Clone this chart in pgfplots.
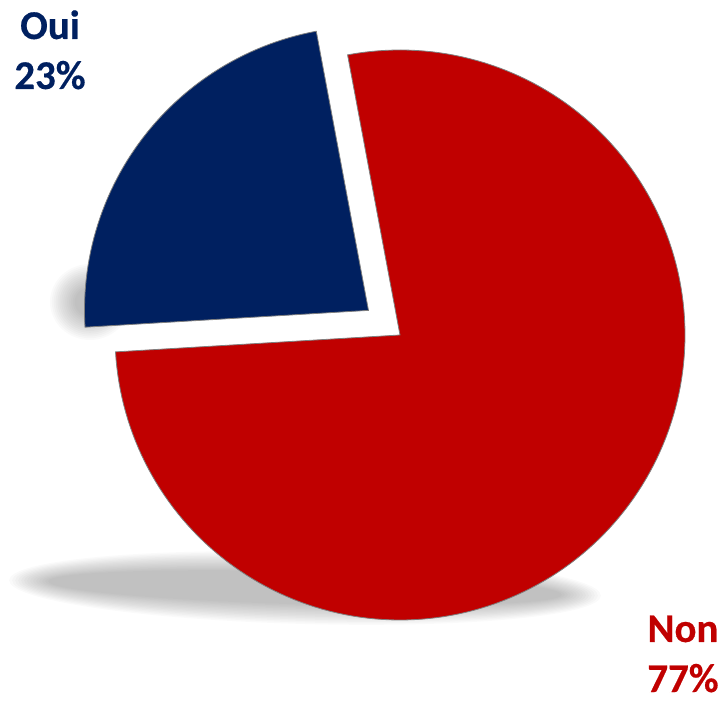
\documentclass[border=0pt]{standalone}
\usepackage{pgfplots}
\pgfplotsset{compat=1.18}
\usepackage{pgfplotstable}
\usepackage{fontspec}
\setmainfont{Carlito}[BoldFeatures={FakeBold=0.4}]
\definecolor{oui}{HTML}{002060}
\definecolor{non}{HTML}{C00000}
\definecolor{edge}{HTML}{7F7F7F}
\tikzset{lbl/.style={anchor=base, inner sep=0pt, font=\bfseries\fontsize{41}{49}\selectfont}}

\pgfplotstableread{
label value
Oui 23
Non 77
}\piedata

\begin{document}
\begin{tikzpicture}
\pgfplotstablegetelem{0}{value}\of\piedata \let\vOui\pgfplotsretval
\pgfplotstablegetelem{1}{value}\of\piedata \let\vNon\pgfplotsretval
% angles (degrees) from the shares
\pgfmathsetmacro\aStart{100.6}
\pgfmathsetmacro\aMid{\aStart+3.6*\vOui}
\pgfmathsetmacro\aEnd{\aMid+3.6*\vNon}
\pgfmathsetmacro\aHalf{\aStart+1.8*\vOui}
% exploded slice centre
\pgfmathsetmacro\cxO{400+40*cos(\aHalf)}
\pgfmathsetmacro\cyO{366+40*sin(\aHalf)}
\begin{axis}[
    width=728bp, height=701bp, scale only axis,
    xmin=0, xmax=728, ymin=0, ymax=701,
    hide axis, clip=false,
]
% soft shadows
\pgfplotsinvokeforeach{0,...,13}{
  \fill[black, opacity=0.018] (axis cs:305,113)
    ellipse[x radius={296bp-#1*3bp}, y radius={36bp-#1*1.5bp}, rotate=-1.5];
  \fill[black, opacity=0.02] (axis cs:90,399)
    ellipse[x radius={40bp-#1*1.9bp}, y radius={38bp-#1*1.8bp}];
}
% Non slice
\addplot[fill=non, draw=edge, line width=0.8pt, domain=\aMid:\aEnd, samples=181, variable=\t]
  ({400+285*cos(t)}, {366+285*sin(t)}) -- (axis cs:400,366) -- cycle;
% Oui slice (exploded)
\addplot[fill=oui, draw=edge, line width=0.8pt, domain=\aStart:\aMid, samples=60, variable=\t]
  ({\cxO+284*cos(t)}, {\cyO+284*sin(t)}) -- (axis cs:\cxO,\cyO) -- cycle;
% labels
\node[lbl, text=oui] at (axis cs:50,662) {Oui};
\node[lbl, text=oui] at (axis cs:50,612) {\vOui\%};
\node[lbl, text=non] at (axis cs:683,59) {Non};
\node[lbl, text=non] at (axis cs:683,9) {\vNon\%};
\end{axis}
\pgfresetboundingbox
\path (current axis.south west) rectangle (current axis.north east);
\end{tikzpicture}
\end{document}
